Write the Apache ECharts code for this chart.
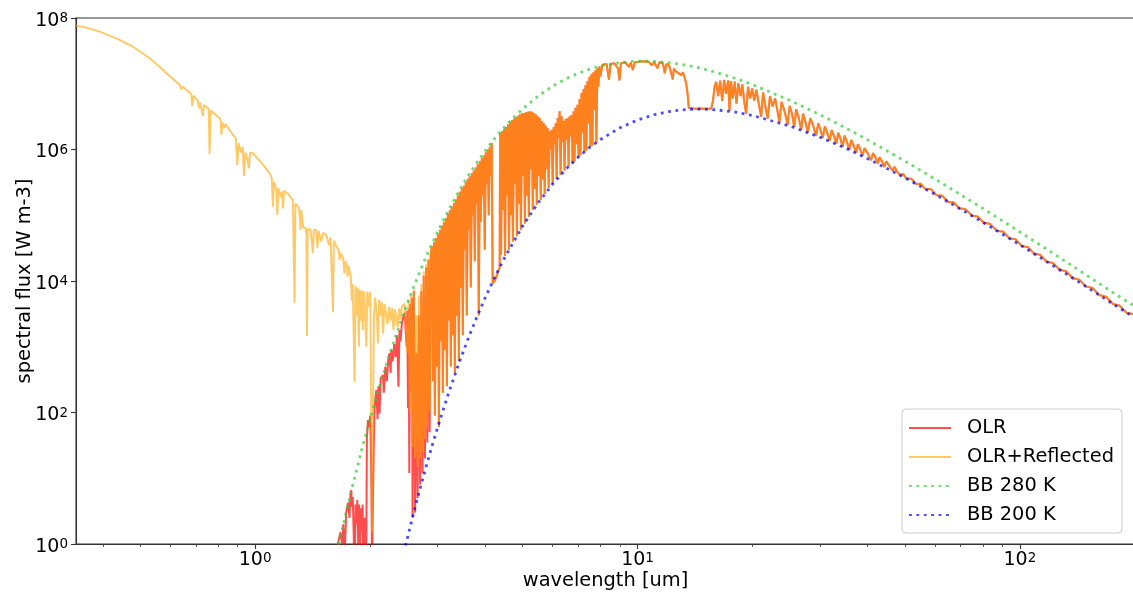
<!DOCTYPE html>
<html>
<head>
<meta charset="utf-8">
<script src="https://cdn.jsdelivr.net/npm/echarts@6/dist/echarts.min.js"></script>
<style>html,body{margin:0;padding:0;background:#fff}#c{width:1133px;height:593px}</style>
</head>
<body>
<div id="c"></div>
<script>
// ---------------- data ----------------
const seriesNames = ['OLR', 'OLR+Reflected', 'BB 280 K', 'BB 200 K'];
const xMajorTicks = [1, 10, 100];
const xMinorTicks = [0.4, 0.5, 0.6, 0.7, 0.8, 0.9, 2, 3, 4, 5, 6, 7, 8, 9, 20, 30, 40, 50, 60, 70, 80, 90];
const yMajorTicks = [1, 1e2, 1e4, 1e6, 1e8];

// OLR+Reflected, short-wave part (wavelength um, flux W m-3)
const reflectedShortwave = [
[0.34,7.64e7],[0.362,7.13e7],[0.392,6.2e7],[0.4335,4.91e7],[0.479,3.66e7],[0.53,2.44e7],[0.575,1.62e7],
[0.586,1.44e7],[0.59,1.38e7],[0.594,1.36e7],[0.635,9.57e6],[0.641,8.2e6],[0.647,9.0e6],[0.68,7.0e6],
[0.685,4.59e6],[0.69,6.6e6],[0.708,5.5e6],[0.713,4.23e6],[0.718,5.2e6],[0.726,4.9e6],[0.73,3.24e6],
[0.735,4.75e6],[0.745,4.48e6],[0.756,4.1e6],[0.76,8.45e5],[0.765,3.9e6],[0.808,2.98e6],[0.813,2.7e6],
[0.816,1.66e6],[0.821,2.6e6],[0.83,2.1e6],[0.836,2.45e6],[0.875,1.66e6],[0.89,1.5e6],[0.898,5.81e5],
[0.905,1.25e6],[0.918,9.0e5],[0.928,1.1e6],[0.935,3.96e5],[0.943,9.0e5],[0.955,7.0e5],[0.963,5.18e5],
[0.97,8.9e5],[0.987,8.75e5],[1.04,6.2e5],[1.091,4.34e5],[1.105,3.7e5],[1.113,1.35e5],[1.12,3.2e5],
[1.135,2.5e5],[1.143,1.01e5],[1.15,2.6e5],[1.165,1.9e5],[1.175,2.3e5],[1.183,1.27e5],[1.19,2.35e5],
[1.22,2.1e5],[1.255,1.71e5],[1.262,1.62e5],[1.268,4680],[1.274,1.5e5],[1.3,1.32e5],[1.31,9.0e4],
[1.315,6.0e4],[1.32,1.2e5],[1.33,1.18e5],[1.336,6.5e4],[1.355,6.33e4],[1.362,5.0e4],[1.366,1457],
[1.372,6.2e4],[1.395,6.1e4],[1.41,3.5e4],[1.416,2.64e4],[1.424,6.0e4],[1.445,5.97e4],[1.455,3.2e4],
[1.465,5.7e4],[1.49,4.0e4],[1.505,5.4e4],[1.535,5.01e4],[1.56,3.5e4],[1.575,4.6e4],[1.59,4.3e4],
[1.598,3340],[1.606,4.1e4],[1.63,3.4e4],[1.655,2.9e4],[1.663,2.08e4],[1.672,2.7e4],[1.70,2.2e4],
[1.712,1.3e4],[1.722,2.0e4],[1.735,1.85e4],[1.745,1.16e4],[1.755,1.7e4],[1.766,1.65e4],[1.78,1.1e4],
[1.79,5000],[1.80,9000],[1.81,8700],[1.82,294],[1.83,8400],[1.845,3000],[1.855,7900],[1.868,1000],
[1.876,7290],[1.89,2500],[1.9,7100],[1.914,1800],[1.925,7000],[1.94,3000],[1.953,1000],[1.965,6900],
[1.98,4000],[2.0,6870],[2.012,109],[2.022,1.5],[2.032,43],[2.045,3000],[2.06,5600],[2.074,5460],
[2.085,2500],[2.095,1125],[2.11,5200],[2.13,3000],[2.145,4800],[2.16,1590],[2.18,4500],[2.2,4315],
[2.22,2200],[2.24,4100],[2.26,2500],[2.28,3900],[2.3,1800],[2.32,3700],[2.34,3620],[2.36,2000],
[2.38,3800],[2.40,2600],[2.42,4100],[2.44,4300],[2.46,4500],[2.48,4400],[2.50,800],[2.52,5200],
[2.54,100],[2.56,6000],[2.58,30],[2.60,7500],[2.62,20],[2.64,3000],[2.66,15],[2.68,6000],[2.70,20],
[2.72,9000],[2.74,25],[2.76,14000],[2.78,40],[2.80,18000],[2.82,60],[2.84,22000],[2.86,100],[2.88,27000]
];

// OLR, near-infrared part
const olrNearInfrared = [
[1.58,0.2],[1.62,0.6],[1.646,1.0],[1.67,1.5],[1.69,1.0],[1.70,2.0],[1.715,0.7],[1.73,3.0],[1.75,4.3],
[1.765,2.5],[1.775,5.8],[1.784,6.6],[1.79,3.7],[1.80,5.2],[1.81,1.5],[1.82,0.2],[1.83,4.0],[1.84,2.0],
[1.85,4.7],[1.86,1.0],[1.87,4.0],[1.88,0.5],[1.89,3.5],[1.90,1.5],[1.91,4.0],[1.92,0.3],[1.935,2.5],
[1.95,0.2],[1.96,40],[1.972,77],[1.985,60],[2.0,90],[2.012,12],[2.022,0.5],[2.035,8],[2.05,100],
[2.06,150],[2.074,220],[2.09,80],[2.10,250],[2.115,97],[2.13,330],[2.158,372],[2.17,200],[2.19,500],
[2.21,300],[2.23,650],[2.246,800],[2.26,400],[2.27,900],[2.29,600],[2.31,1100],[2.33,700],[2.35,1500],
[2.37,246],[2.385,1800],[2.40,1200],[2.42,2300],[2.44,2800],[2.46,3300],[2.475,3230],[2.49,1000],
[2.50,3500],[2.51,116],[2.52,3800],[2.53,12],[2.545,4500],[2.56,200],[2.57,5500],[2.58,2.5],[2.60,7000],
[2.62,3],[2.64,800],[2.66,5],[2.68,3000],[2.70,8],[2.72,7000],[2.74,12],[2.76,12000],[2.78,20],
[2.80,16000],[2.82,35],[2.84,21000],[2.86,50],[2.88,26000]
];

// Thermal infrared, shared by OLR and OLR+Reflected
const thermalInfrared = [
[2.900,3.4e4],[2.917,300],[2.935,3.9e4],[2.952,90],[2.970,4.5e4],[2.988,500],[3.006,5.2e4],[3.024,60],
[3.042,6.0e4],[3.060,1200],[3.079,6.9e4],[3.097,200],[3.116,7.9e4],[3.135,900],[3.154,9.1e4],[3.173,250],
[3.192,1.06e5],[3.211,2500],[3.230,1.2e5],[3.250,500],[3.269,1.35e5],[3.289,1500],[3.309,1.52e5],[3.329,400],
[3.349,1.73e5],[3.369,3000],[3.389,2.0e5],[3.410,600],[3.430,2.27e5],[3.451,8000],[3.472,2.55e5],[3.493,1500],
[3.514,2.8e5],[3.535,3.0e4],[3.556,3.2e5],[3.578,3000],[3.599,3.6e5],[3.621,6.0e4],[3.643,3.9e5],[3.665,8000],
[3.687,4.35e5],[3.709,1.0e5],[3.731,4.8e5],[3.754,2.0e4],[3.776,5.3e5],[3.799,1.5e5],[3.822,6.0e5],[3.845,3000],
[3.868,6.6e5],[3.892,8.0e4],[3.915,7.35e5],[3.939,2.0e5],[3.962,8.1e5],[3.986,3.0e4],[4.010,9.0e5],[4.034,3.0e5],
[4.059,1.0e6],[4.083,1.0e5],[4.108,1.1e6],[4.132,4.0e5],[4.157,1.25e6],
[4.168,1.3e6],[4.18,9230],[4.25,1.05e4],[4.32,1.4e4],[4.36,1.6e4],
[4.370,1.76e6],[4.396,2.5e4],[4.423,1.9e6],[4.449,1.2e5],[4.476,2.05e6],[4.503,2.4e4],[4.530,2.2e6],[4.557,2.0e5],
[4.584,2.4e6],[4.612,3.0e4],[4.639,2.6e6],[4.667,1.0e5],[4.695,2.8e6],[4.723,4.0e4],[4.752,2.95e6],[4.780,3.0e5],
[4.809,3.1e6],[4.838,4.8e4],[4.867,3.25e6],[4.896,1.5e5],[4.925,3.45e6],[4.955,6.0e4],[4.985,3.55e6],[5.015,4.0e5],
[5.045,3.6e6],[5.075,7.5e4],[5.105,3.7e6],[5.136,2.0e5],[5.167,3.75e6],[5.198,9.5e4],[5.229,3.8e6],[5.260,5.0e5],
[5.292,3.75e6],[5.323,1.2e5],[5.355,3.6e6],[5.387,2.5e5],[5.420,3.4e6],[5.452,1.45e5],[5.485,3.2e6],[5.518,4.0e5],
[5.551,3.0e6],[5.584,1.7e5],[5.618,2.7e6],[5.651,3.5e5],[5.685,2.5e6],[5.719,2.1e5],[5.754,2.3e6],[5.788,5.0e5],
[5.823,2.1e6],[5.858,2.6e5],[5.893,1.9e6],[5.928,1.0e6],[5.964,2.0e6],[6.000,3.0e5],[6.036,2.2e6],[6.072,1.2e6],
[6.108,2.5e6],[6.145,3.6e5],[6.182,3.0e6],[6.219,1.5e6],[6.256,3.8e6],[6.294,4.1e5],[6.331,3.2e6],[6.369,1.3e6],
[6.408,2.7e6],[6.446,4.8e5],[6.485,2.9e6],[6.524,1.4e6],[6.563,3.0e6],[6.602,5.5e5],[6.642,3.2e6],[6.682,1.6e6],
[6.722,3.35e6],[6.762,6.2e5],[6.803,3.8e6],[6.844,6.6e5],[6.885,4.3e6],[6.926,1.2e6],[6.968,4.8e6],[7.010,7.7e5],
[7.052,5.8e6],[7.094,8.2e5],[7.136,7.2e6],[7.179,1.8e6],[7.222,8.3e6],[7.266,9.2e5],[7.309,9.5e6],[7.353,9.7e5],
[7.397,1.1e7],[7.442,2.5e6],[7.486,1.28e7],[7.531,1.1e6],[7.576,1.4e7],[7.622,1.15e6],[7.668,1.5e7],[7.714,4.0e6],
[7.760,1.6e7],[7.807,1.25e6],[7.854,1.72e7],[7.901,9.0e6],[7.948,1.85e7],[7.996,1.3e7],
[8.1,1.95e7],[8.3,2.0e7],[8.42,1.15e7],[8.5,2.0e7],[8.7,2.05e7],[8.9,1.7e7],[8.97,1.12e7],[9.05,2.05e7],
[9.3,2.1e7],[9.5,1.8e7],[9.6,2.1e7],[9.72,1.62e7],[9.85,2.15e7],[10.1,2.17e7],[10.4,2.2e7],[10.7,2.15e7],
[10.9,1.9e7],[11.05,2.13e7],[11.28,1.72e7],[11.4,2.12e7],[11.65,2.05e7],[11.78,1.44e7],[11.9,2.0e7],
[12.1,1.9e7],[12.37,1.16e7],[12.45,1.7e7],[12.6,1.55e7],[12.8,1.45e7],[13.0,1.35e7],[13.15,1.5e7],
[13.3,1.2e7],[13.41,1.0e7],[13.52,7.0e6],[13.62,4.3e6],[13.75,4.15e6],[14.0,4.2e6],[14.3,4.15e6],
[14.6,4.2e6],[15.0,4.18e6],[15.3,4.15e6],[15.58,4.15e6],[15.75,5.5e6],[15.9,9.0e6],[16.06,1.07e7],
[16.25,6.5e6],[16.45,1.12e7],[16.65,5.5e6],[16.85,1.14e7],[17.05,7.0e6],[17.26,1.12e7],[17.4,3.9e6],
[17.55,1.1e7],[17.75,6.0e6],[17.95,1.08e7],[18.15,5.0e6],[18.35,1.02e7],[18.6,6.5e6],[18.8,9.8e6],
[19.0,5.5e6],[19.24,3.5e6],[19.45,9.0e6],[19.7,6.0e6],[19.95,8.5e6],[20.2,5.5e6],[20.45,8.1e6],
[20.75,5.0e6],[21.06,3.15e6],[21.3,7.4e6],[21.6,4.5e6],[21.9,2.95e6],[22.2,6.5e6],[22.55,4.5e6],
[22.9,6.0e6],[23.2,4.0e6],[23.5,2.6e6],[23.8,5.3e6],[24.25,3.8e6],[24.7,2.38e6],[25.0,4.6e6],
[25.35,3.5e6],[25.7,2.2e6],[26.0,4.1e6],[26.4,3.0e6],[26.8,2.0e6],[27.1,3.5e6],[27.5,2.6e6],
[27.9,1.83e6],[28.3,3.0e6],[28.8,2.3e6],[29.3,1.62e6],[29.7,2.5e6],[30.1,2.0e6],[30.5,1.5e6],
[30.9,2.25e6],[31.35,1.8e6],[31.8,1.36e6],[32.2,1.98e6],[32.65,1.6e6],[33.1,1.23e6],[33.5,1.8e6],
[33.95,1.45e6],[34.4,1.1e6],[34.8,1.62e6],[35.3,1.3e6],[35.8,9.9e5],[36.2,1.4e6],[36.75,1.15e6],
[37.3,8.9e5],[37.7,1.2e6],[38.25,1.0e6],[38.8,8.0e5],[39.2,1.05e6],[40.0,8.8e5],[40.8,6.9e5],
[41.3,8.8e5],[41.9,7.6e5],[42.5,6.15e5],[42.9,7.6e5],[43.6,6.6e5],[44.2,5.45e5],[44.7,6.6e5],
[45.6,5.6e5],[46.5,4.7e5],[47.0,5.5e5],[47.7,4.6e5],
[48.5,4.1e5],[49.5,4.25e5],[50.5,3.61e5],[52,3.6e5],[53.5,3.0e5],[55,3.02e5],[56.5,2.52e5],[58.5,2.5e5],
[60.5,2.02e5],[62.5,2.0e5],[65,1.59e5],[67,1.58e5],[69.5,1.27e5],[72,1.24e5],[75,9.8e4],[77.5,9.6e4],
[80.5,7.67e4],[83.5,7.4e4],[87,5.82e4],[90.5,5.6e4],[94,4.42e4],[97.5,4.3e4],[101,3.42e4],[105,3.27e4],
[109,2.59e4],[113,2.5e4],[117.5,1.96e4],[122,1.88e4],[127,1.48e4],[132,1.41e4],[137.5,1.1e4],[143,1.05e4],
[149,8215],[155,7800],[161,6130],[168,5750],[175,4484],[182,4250],[190,3290],[198,3150]
];

// Blackbody reference curves
const bb280 = [
[1.55,0.167],[1.6,0.40],[1.65,0.91],[1.7,1.96],[1.75,4.04],[1.8,7.9],[1.9,27],[2.0,81],[2.1,216],[2.2,521],
[2.3,1151],[2.4,2370],[2.5,4535],[2.6,8220],[2.7,1.41e4],[2.8,2.33e4],[2.9,3.68e4],[3.0,5.6e4],[3.2,1.18e5],
[3.4,2.25e5],[3.6,3.92e5],[3.8,6.33e5],[4.0,9.6e5],[4.2,1.39e6],[4.4,1.92e6],[4.6,2.55e6],[4.8,3.29e6],
[5.0,4.11e6],[5.5,6.51e6],[6,9.2e6],[6.5,1.19e7],[7,1.44e7],[7.5,1.67e7],[8,1.86e7],[9,2.1e7],[10,2.21e7],
[11,2.195e7],[12,2.106e7],[13,1.97e7],[14,1.82e7],[15,1.657e7],[16,1.50e7],[18,1.21e7],[20,9.7e6],
[25,5.6e6],[30,3.39e6],[35,2.13e6],[40,1.40e6],[50,6.67e5],[60,3.55e5],[70,2.05e5],[80,1.27e5],
[100,5.57e4],[125,2.41e4],[150,1.21e4],[175,6681],[200,4100]
];
const bb200 = [
[2.35,0.265],[2.4,0.45],[2.5,1.22],[2.6,3.03],[2.7,7.0],[2.8,15.1],[2.9,30.7],[3.0,59],[3.2,192],[3.4,531],
[3.6,1298],[3.8,2833],[4.0,5650],[4.25,1.2e4],[4.5,2.31e4],[5,6.75e4],[5.5,1.55e5],[6,2.99e5],[6.5,5.03e5],
[7,7.67e5],[7.5,1.08e6],[8,1.42e6],[9,2.14e6],[10,2.81e6],[11,3.36e6],[12,3.75e6],[13,4.0e6],[14,4.10e6],
[15,4.11e6],[16,4.02e6],[18,3.71e6],[20,3.29e6],[25,2.28e6],[30,1.54e6],[35,1.05e6],[40,7.25e5],
[50,3.72e5],[60,2.08e5],[70,1.24e5],[80,7.84e4],[100,3.55e4],[125,1.576e4],[150,8010],[175,4484],[200,2750]
];

// ---------------- chart ----------------
const FONT = "'DejaVu Sans', sans-serif";
const AXIS_COLOR = '#333333';
const olrData = olrNearInfrared.concat(thermalInfrared);
const olrReflData = reflectedShortwave.concat(thermalInfrared);

const rich = {
  b: { fontFamily: FONT, fontSize: 19, color: '#000', lineHeight: 19, padding: [6, 0, 0, 0] },
  e: { fontFamily: FONT, fontSize: 13.5, color: '#000', lineHeight: 13, padding: [3, 0, 0, 0], verticalAlign: 'top' }
};
function powLabel(v) {
  const e = Math.round(Math.log10(v));
  return '{b|10}{e|' + e + '}';
}

const gridBox = { left: 76, right: -2, top: 18, bottom: 49, outerBoundsMode: 'none', containLabel: false };

const chart = echarts.init(document.getElementById('c'), null, { renderer: 'canvas' });
chart.setOption({
  animation: false,
  backgroundColor: '#ffffff',
  textStyle: { fontFamily: FONT },
  grid: [
    Object.assign({ show: true, borderColor: AXIS_COLOR, borderWidth: 1.1, backgroundColor: 'transparent' }, gridBox),
    Object.assign({ show: false }, gridBox)
  ],
  xAxis: [
    {
      type: 'log', logBase: 10, gridIndex: 0, min: 0.34, max: 200,
      name: 'wavelength [um]', nameLocation: 'middle', nameGap: 27, nameMoveOverlap: false,
      nameTextStyle: { fontFamily: FONT, fontSize: 19.4, color: '#000' },
      axisLine: { show: true, lineStyle: { color: AXIS_COLOR, width: 1.1 } },
      axisTick: { show: true, inside: false, length: 5, lineStyle: { color: AXIS_COLOR, width: 1.1 }, customValues: xMajorTicks },
      axisLabel: { show: true, margin: 4, customValues: xMajorTicks, formatter: powLabel, rich: rich },
      splitLine: { show: false }, minorTick: { show: false }, minorSplitLine: { show: false }
    },
    {
      type: 'log', logBase: 10, gridIndex: 1, min: 0.34, max: 200,
      axisLine: { show: false },
      axisTick: { show: true, inside: false, length: 3, lineStyle: { color: AXIS_COLOR, width: 0.8 }, customValues: xMinorTicks },
      axisLabel: { show: false }, splitLine: { show: false }
    }
  ],
  yAxis: [
    {
      type: 'log', logBase: 10, gridIndex: 0, min: 1, max: 1e8,
      name: 'spectral flux [W m-3]', nameLocation: 'middle', nameGap: 42, nameMoveOverlap: false,
      nameTextStyle: { fontFamily: FONT, fontSize: 19.4, color: '#000' },
      axisLine: { show: true, lineStyle: { color: AXIS_COLOR, width: 1.1 } },
      axisTick: { show: true, inside: false, length: 5, lineStyle: { color: AXIS_COLOR, width: 1.1 }, customValues: yMajorTicks },
      axisLabel: { show: true, margin: 8, customValues: yMajorTicks, formatter: powLabel, rich: rich },
      splitLine: { show: false }, minorTick: { show: false }
    },
    { type: 'log', logBase: 10, gridIndex: 1, min: 1, max: 1e8, show: false }
  ],
  legend: {
    data: seriesNames, orient: 'vertical', left: 902, top: 409,
    itemWidth: 42, itemHeight: 12, itemGap: 7,
    padding: [8, 8, 7, 6],
    backgroundColor: 'rgba(255,255,255,0.8)', borderColor: '#cccccc', borderWidth: 1, borderRadius: 4,
    selectedMode: false,
    itemStyle: { opacity: 0, borderWidth: 0 },
    textStyle: { fontFamily: FONT, fontSize: 19.4, color: '#000', lineHeight: 22, padding: [0, 0, 0, 11] }
  },
  series: [
    { name: seriesNames[0], type: 'line', data: olrData, showSymbol: false, symbol: 'none', silent: true, clip: true,
      lineStyle: { color: '#ff0000', width: 2, opacity: 0.7 }, itemStyle: { color: '#ff0000', opacity: 0.7 } },
    { name: seriesNames[1], type: 'line', data: olrReflData, showSymbol: false, symbol: 'none', silent: true, clip: true,
      lineStyle: { color: '#ffa500', width: 2, opacity: 0.6 }, itemStyle: { color: '#ffa500', opacity: 0.6 } },
    { name: seriesNames[2], type: 'line', data: bb280, showSymbol: false, symbol: 'none', silent: true, clip: true,
      lineStyle: { color: '#32cd32', width: 2.8, opacity: 0.7, type: [2.8, 4.6] }, itemStyle: { color: '#32cd32', opacity: 0.7 } },
    { name: seriesNames[3], type: 'line', data: bb200, showSymbol: false, symbol: 'none', silent: true, clip: true,
      lineStyle: { color: '#0000ff', width: 2.8, opacity: 0.7, type: [2.8, 4.6] }, itemStyle: { color: '#0000ff', opacity: 0.7 } }
  ]
});
</script>
</body>
</html>
